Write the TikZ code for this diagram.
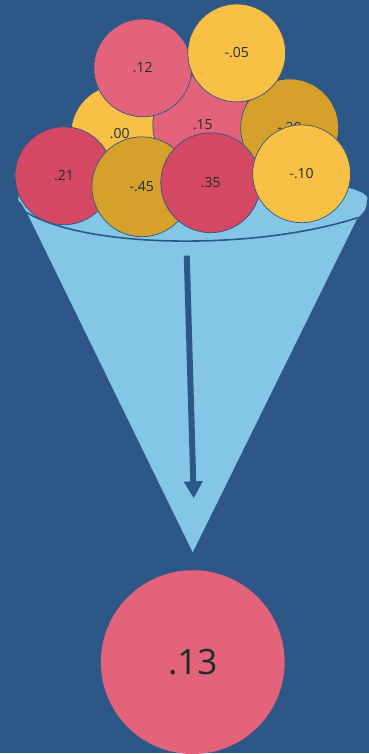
\documentclass[tikz,border=0pt]{standalone}
\usepackage{fontspec}
\setmainfont{Open Sans}
\usepackage{xcolor}
\usetikzlibrary{arrows.meta, positioning, calc}
\definecolor{bgblue}{HTML}{2C5786}
\definecolor{conelight}{HTML}{84C6E6}
\definecolor{pinkball}{HTML}{E2637A}
\definecolor{yellowball}{HTML}{F8C145}
\definecolor{goldball}{HTML}{D5A12A}
\definecolor{redball}{HTML}{D54864}
\definecolor{balltext}{HTML}{1E2B2B}
\tikzset{
  ball/.style={circle, draw=bgblue, line width=0.7pt, minimum size=98pt, inner sep=0pt, text=balltext, font=\fontsize{14}{16}\selectfont},
  bigball/.style={circle, fill=pinkball, minimum size=184pt, inner sep=0pt, text=balltext, font=\fontsize{35}{40}\selectfont},
  cone/.style={fill=conelight},
  rim/.style={draw=bgblue, line width=1.6pt},
  funnelarrow/.style={-{Triangle[length=17pt, width=18pt]}, line width=6pt, draw=bgblue},
}

\begin{document}
\begin{tikzpicture}[x=1pt, y=-1pt]
  % Background
  \fill[bgblue] (0,0) rectangle (369,754);

  % Funnel
  \fill[cone] (193,199) ellipse [x radius=175, y radius=24];
  \fill[cone] (21,203) -- (27,213) -- (193,553) -- (358,218) .. controls (366,212) and (368,206) .. (367,200) -- cycle;
  \draw[rim] (27,213) .. controls (90,250) and (260,250) .. (358,218);

  % Balls in the funnel
  \node[ball, fill=yellowball] (b00) at (120,134) {.00};
  \node[ball, fill=pinkball, minimum size=100pt] (b15) at (203,125) {.15};
  \node[ball, fill=pinkball] (b12) at (143,68) {.12};
  \node[ball, fill=goldball] (b20) at (290,128) {-.20};
  \node[ball, fill=yellowball] (b05) at (237,53) {-.05};
  \node[ball, fill=redball] (b21) at (64,176) {.21};
  \node[ball, fill=goldball, minimum size=100pt] (b45) at (142,187) {-.45};
  \node[ball, fill=redball, minimum size=100pt] (b35) at (211,183) {.35};
  \node[ball, fill=yellowball] (b10) at (302,174) {-.10};

  % Arrow
  \coordinate (arrowtop) at (187,256);
  \coordinate (arrowtip) at (194,499);
  \draw[funnelarrow] (arrowtop) -- (arrowtip);

  % Result
  \node[bigball] (result) at (193,663) {.13};
\end{tikzpicture}
\end{document}
